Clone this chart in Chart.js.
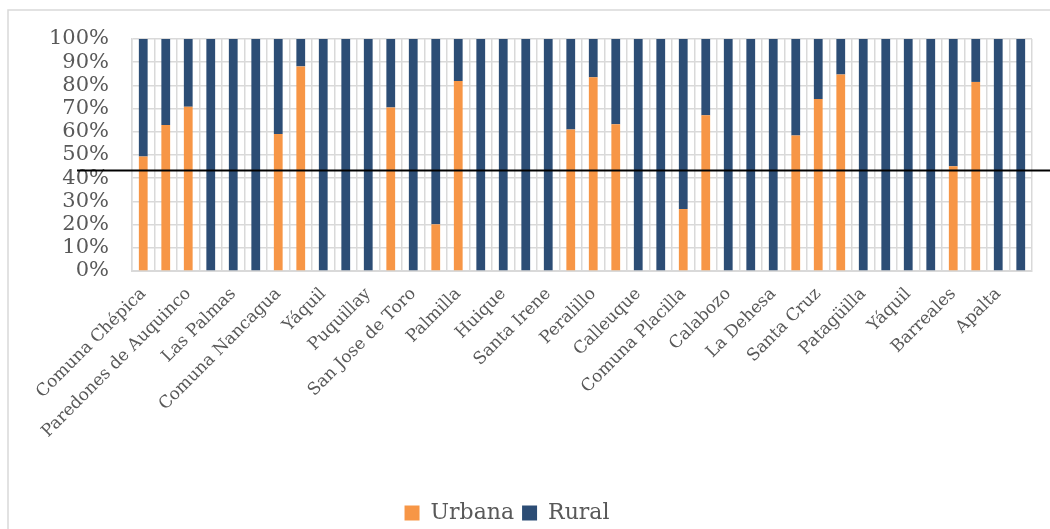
<!DOCTYPE html>
<html lang="es">
<head>
<meta charset="UTF-8">
<title>Urbana / Rural</title>
<script src="https://cdn.jsdelivr.net/npm/chart.js"></script>
<style>
  html, body { margin: 0; padding: 0; background: #fff; }
  .wrap { width: 1050px; height: 529px; }
</style>
</head>
<body>
<div class="wrap"><canvas id="chart" width="1050" height="529"></canvas></div>
<script>
// only every other category name is printed on the axis, the others are unknown
const categories = [
  'Comuna Chépica', '', 'Paredones de Auquinco', '', 'Las Palmas', '',
  'Comuna Nancagua', '', 'Yáquil', '', 'Puquillay', '', 'San Jose de Toro', '',
  'Palmilla', '', 'Huique', '', 'Santa Irene', '', 'Peralillo', '',
  'Calleuque', '', 'Comuna Placilla', '', 'Calabozo', '', 'La Dehesa', '',
  'Santa Cruz', '', 'Patagüilla', '', 'Yáquil', '', 'Barreales', '', 'Apalta', ''
];
const urbana = [
  49.4, 62.9, 70.8, 0, 0, 0, 59.0, 88.2, 0, 0,
  0, 70.5, 0, 20.1, 81.9, 0, 0, 0, 0, 61.0,
  83.5, 63.3, 0, 0, 26.7, 67.1, 0, 0, 0, 58.4,
  74.1, 84.7, 0, 0, 0, 0, 45.2, 81.5, 0, 0
];
const rural = [
  50.6, 37.1, 29.2, 100, 100, 100, 41.0, 11.8, 100, 100,
  100, 29.5, 100, 79.9, 18.1, 100, 100, 100, 100, 39.0,
  16.5, 36.7, 100, 100, 73.3, 32.9, 100, 100, 100, 41.6,
  25.9, 15.3, 100, 100, 100, 100, 54.8, 18.5, 100, 100
];
const seriesNames = ['Urbana', 'Rural'];
const refLine = 43.3;   // black horizontal line (%)

const fontFam = '"DejaVu Serif", serif';
const grey = '#595959';
const gridCol = '#d9d9d9';

const framePlugin = {
  id: 'frame',
  beforeDraw(chart) {
    const { ctx, width, height } = chart;
    ctx.save();
    ctx.fillStyle = '#fff';
    ctx.fillRect(0, 0, width, height);
    ctx.strokeStyle = gridCol;
    ctx.lineWidth = 1.5;
    ctx.strokeRect(8, 10, width + 50, height + 50);
    ctx.restore();
  },
  afterLayout(chart) {
    // nudge legend a bit left and down, like the original
    const lg = chart.legend;
    lg.right -= 18;
    lg.top += 5;
    lg.bottom += 5;
  },
  afterDatasetsDraw(chart) {
    const { ctx, width } = chart;
    const y = chart.scales.y.getPixelForValue(refLine);
    ctx.save();
    ctx.strokeStyle = '#000';
    ctx.lineWidth = 2;
    ctx.beginPath();
    ctx.moveTo(77, y);
    ctx.lineTo(width, y);
    ctx.stroke();
    ctx.restore();
  }
};

new Chart(document.getElementById('chart'), {
  type: 'bar',
  data: {
    labels: categories,
    datasets: [
      { label: seriesNames[0], data: urbana, backgroundColor: '#f79646' },
      { label: seriesNames[1], data: rural, backgroundColor: '#2c4d75' }
    ]
  },
  options: {
    responsive: false,
    animation: false,
    devicePixelRatio: 1,
    datasets: { bar: { barPercentage: 0.39, categoryPercentage: 1 } },
    layout: { padding: { left: 0, right: 18, top: 39, bottom: 0 } },
    scales: {
      x: {
        stacked: true,
        afterFit(s) { s.height = 218; },
        grid: { color: gridCol, lineWidth: 1.5, offset: true, drawTicks: false },
        border: { color: gridCol, width: 2 },
        ticks: {
          autoSkip: false, maxRotation: 45, minRotation: 45, padding: 13,
          color: grey, font: { family: fontFam, size: 17 }
        }
      },
      y: {
        stacked: true,
        min: 0, max: 100,
        afterFit(s) { s.width = 132; },
        grid: { color: gridCol, lineWidth: 1.5, drawTicks: false },
        border: { color: gridCol, width: 1.5 },
        ticks: {
          autoSkip: false, stepSize: 10, padding: 23, color: grey,
          font: { family: fontFam, size: 21 },
          callback: v => v + '%'
        }
      }
    },
    plugins: {
      tooltip: { enabled: false },
      legend: {
        position: 'bottom',
        labels: {
          boxWidth: 15, boxHeight: 15, padding: 8,
          color: grey, font: { family: fontFam, size: 22 }
        }
      }
    }
  },
  plugins: [framePlugin]
});
</script>
</body>
</html>
